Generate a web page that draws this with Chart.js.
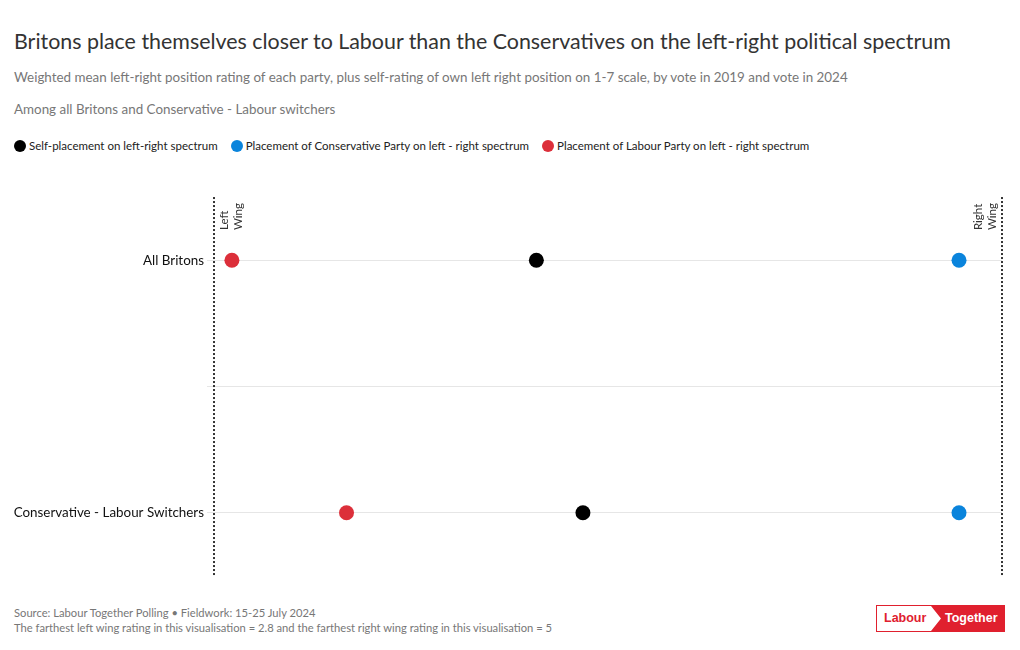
<!DOCTYPE html>
<html>
<head>
<meta charset="utf-8">
<script src="https://cdn.jsdelivr.net/npm/chart.js@4.4.0/dist/chart.umd.min.js"></script>
<style>
    body { margin: 0; background: #fff; font-family: Lato, 'Open Sans', sans-serif; }
    #wrap { position: relative; width: 1020px; height: 650px; overflow: hidden; }
    .title { position: absolute; left: 14px; top: 28px; font-size: 21.4px; color: #333; white-space: nowrap; }
    .sub { position: absolute; left: 14px; font-size: 13.4px; color: #777; white-space: nowrap; }
    .legend { position: absolute; left: 14px; top: 139px; font-size: 11.5px; color: #222; white-space: nowrap; display: flex; }
    .legend span.item { display: flex; align-items: center; margin-right: 13px; }
    .legend i { display: inline-block; width: 12px; height: 12px; border-radius: 50%; margin-right: 3px; }
    #chartBox { position: absolute; left: 0; top: 186px; width: 1020px; height: 401px; }
    .foot { position: absolute; left: 14px; font-size: 11.2px; color: #777; white-space: nowrap; }
    .logo { position: absolute; left: 876px; top: 605px; width: 129px; height: 27px; box-sizing: border-box;
            border: 1px solid #e0202e; font-family: 'Liberation Sans', Arial, sans-serif; font-weight: bold; font-size: 12.5px; }
    .logo .red { position: absolute; left: 54px; top: 0; width: 74px; height: 25px; background: #e0202e;
                 clip-path: polygon(0 0, 100% 0, 100% 100%, 0 100%, 10px 50%); }
    .logo .l { position: absolute; left: 7px; top: 5px; color: #e0202e; }
    .logo .t { position: absolute; left: 68px; top: 5px; color: #fff; }
</style>
</head>
<body>
<div id="wrap">
    <div class="title">Britons place themselves closer to Labour than the Conservatives on the left-right political spectrum</div>
    <div class="sub" style="top:69px">Weighted mean left-right position rating of each party, plus self-rating of own left right position on 1-7 scale, by vote in 2019 and vote in 2024</div>
    <div class="sub" style="top:101px">Among all Britons and Conservative - Labour switchers</div>
    <div class="legend" id="legend"></div>
    <div id="chartBox"><canvas id="chart"></canvas></div>
    <div class="foot" style="top:606px">Source: Labour Together Polling • Fieldwork: 15-25 July 2024</div>
    <div class="foot" style="top:621px">The farthest left wing rating in this visualisation = 2.8 and the farthest right wing rating in this visualisation = 5</div>
    <div class="logo"><div class="red"></div><span class="l">Labour</span><span class="t">Together</span></div>
</div>

<script>
// Data
const groups = ['All Britons', 'Conservative - Labour Switchers'];
const selfPlacement = [3.70, 3.83];
const conservativePlacement = [4.88, 4.88];
const labourPlacement = [2.85, 3.17];

const seriesNames = [
    'Self-placement on left-right spectrum',
    'Placement of Conservative Party on left - right spectrum',
    'Placement of Labour Party on left - right spectrum'
];
const seriesColors = ['#000000', '#0a84dc', '#dc2f3a'];

const xMin = 2.8;
const xMax = 5;
const leftLabel = ['Left', 'Wing'];
const rightLabel = ['Right', 'Wing'];

// rows are placed at 0 and 2, with a divider line at 1
const rowPos = groups.map((g, i) => i * 2);

const toPoints = (values) => values.map((v, i) => ({ x: v, y: rowPos[i] }));

// HTML legend
const legendEl = document.getElementById('legend');
seriesNames.forEach((name, i) => {
    const item = document.createElement('span');
    item.className = 'item';
    item.innerHTML = `<i style="background:${seriesColors[i]}"></i>${name}`;
    legendEl.appendChild(item);
});

// dotted edge lines + wing labels
const edgePlugin = {
    id: 'edges',
    afterDraw(chart) {
        const { ctx, chartArea } = chart;
        const xs = chart.scales.x;
        const left = xs.getPixelForValue(xMin);
        const right = xs.getPixelForValue(xMax);

        ctx.save();
        ctx.strokeStyle = '#333';
        ctx.lineWidth = 2;
        ctx.setLineDash([2, 2]);
        [left, right].forEach(px => {
            ctx.beginPath();
            ctx.moveTo(px, chartArea.top);
            ctx.lineTo(px, chartArea.bottom);
            ctx.stroke();
        });
        ctx.setLineDash([]);

        ctx.fillStyle = '#333';
        ctx.font = '11.5px Lato, sans-serif';
        ctx.textAlign = 'left';
        ctx.textBaseline = 'middle';
        const baseY = chartArea.top + 33;
        const drawRot = (text, px) => {
            ctx.save();
            ctx.translate(px, baseY);
            ctx.rotate(-Math.PI / 2);
            ctx.fillText(text, 0, 0);
            ctx.restore();
        };
        drawRot(leftLabel[0], left + 10);
        drawRot(leftLabel[1], left + 24);
        drawRot(rightLabel[0], right - 24);
        drawRot(rightLabel[1], right - 10);
        ctx.restore();
    }
};

new Chart(document.getElementById('chart'), {
    type: 'scatter',
    data: {
        datasets: [
            { label: seriesNames[0], data: toPoints(selfPlacement) },
            { label: seriesNames[1], data: toPoints(conservativePlacement) },
            { label: seriesNames[2], data: toPoints(labourPlacement) }
        ].map((ds, i) => ({
            ...ds,
            backgroundColor: seriesColors[i],
            borderColor: '#ffffff',
            borderWidth: 0,
            pointRadius: 7.5,
            pointHoverRadius: 8
        }))
    },
    options: {
        responsive: true,
        maintainAspectRatio: false,
        animation: false,
        layout: { padding: { top: 3, bottom: 8, left: 0, right: 18 } },
        plugins: {
            legend: { display: false },
            tooltip: { enabled: true }
        },
        scales: {
            x: {
                type: 'linear',
                min: xMin,
                max: xMax,
                display: false
            },
            y: {
                type: 'linear',
                min: -0.5,
                max: 2.5,
                reverse: true,
                afterFit(scale) { scale.width = 214; },
                afterBuildTicks(scale) {
                    scale.ticks = [0, 1, 2].map(v => ({ value: v }));
                },
                ticks: {
                    color: '#111',
                    padding: 3,
                    font: { family: 'Lato, sans-serif', size: 13.4 },
                    callback: (v) => {
                        const idx = rowPos.indexOf(v);
                        return idx >= 0 ? groups[idx] : '';
                    }
                },
                grid: {
                    color: '#e6e6e6',
                    tickLength: 7,
                    tickColor: '#e6e6e6'
                },
                border: { display: false }
            }
        }
    },
    plugins: [edgePlugin]
});
</script>
</body>
</html>
